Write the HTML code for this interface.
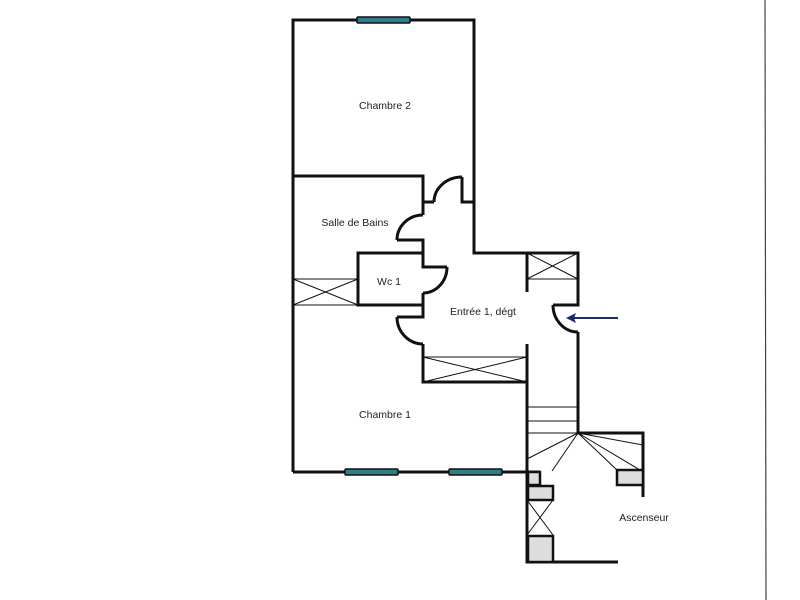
<!DOCTYPE html>
<html><head><meta charset="utf-8"><style>
html,body{margin:0;padding:0;background:#fff;width:800px;height:600px;overflow:hidden}
text{font-family:"Liberation Sans",sans-serif;font-size:10.5px;fill:#222;text-anchor:middle}
</style></head><body>
<svg width="800" height="600" viewBox="0 0 800 600" xmlns="http://www.w3.org/2000/svg">
<line x1="765" y1="0" x2="766" y2="600" stroke="#444" stroke-width="1.2"/>
<g fill="none" stroke="#111" stroke-width="3" stroke-linejoin="miter">
<!-- Chambre 2 -->
<polyline points="293,472 293,20 474,20 474,253 578,253 578,305 553,305"/>
<path d="M553,305 A25,27 0 0 0 578,332"/>
<polyline points="578,332 578,433 643,433 643,497"/>
<!-- salle de bains -->
<polyline points="293,176 423,176 423,202 434,202"/>
<path d="M434,202 A28,25 0 0 1 462,177"/>
<polyline points="462,177 462,202 474,202"/>
<polyline points="423,202 423,215"/>
<path d="M423,215 A26,25 0 0 0 397,240"/>
<polyline points="397,240 423,240 423,267 447,267"/>
<path d="M447,267 A24,26 0 0 1 423,293"/>
<polyline points="423,293 423,317 397,317"/>
<path d="M397,317 A26,27 0 0 0 423,344"/>
<polyline points="423,344 423,382 527,382 527,344"/>
<!-- WC -->
<polyline points="423,253 358,253 358,305 423,305"/>
<!-- inner wall -->
<polyline points="527,253 527,292"/>
<polyline points="527,382 527,562 618,562"/>
<polyline points="293,472 527,472"/>
<polyline points="500,472 540,472"/>
</g>
<g fill="none" stroke="#111" stroke-width="1">
<!-- closets -->
<rect x="527" y="253" width="51" height="26"/>
<path d="M527,253 L578,279 M578,253 L527,279"/>
<rect x="293" y="279" width="65" height="26"/>
<path d="M293,279 L358,305 M358,279 L293,305"/>
<rect x="423" y="357" width="104" height="25"/>
<path d="M423,357 L527,382 M527,357 L423,382"/>
<!-- stairs -->
<path d="M527,407 H578 M527,421 H578 M527,433 H578"/>
<path d="M578,433 L527,459 M578,433 L552,471 M578,433 L643,445 M578,433 L640,470 M578,433 L617,470"/>
<path d="M527,500 L553,535 M553,500 L527,535"/>
</g>
<g stroke="#111" stroke-width="2.5">
<rect x="528" y="472" width="12" height="13" fill="#ddd"/>
<rect x="528" y="486" width="25" height="14" fill="#ddd"/>
<rect x="528" y="536" width="25" height="26" fill="#ddd"/>
<rect x="617" y="470" width="26" height="15" fill="#ddd"/>
</g>
<!-- windows -->
<g fill="#2e7d88" stroke="#111" stroke-width="1.5">
<rect x="357" y="17" width="53" height="6" rx="1"/>
<rect x="345" y="469" width="53" height="6" rx="1"/>
<rect x="449" y="469" width="53" height="6" rx="1"/>
</g>
<!-- arrow -->
<line x1="618" y1="318" x2="572" y2="318" stroke="#1a2a6c" stroke-width="2"/>
<path d="M566,318 L576,313 L574,318 L576,323 Z" fill="#1a2a6c"/>
<text x="385" y="109">Chambre 2</text>
<text x="355" y="226">Salle de Bains</text>
<text x="389" y="285">Wc 1</text>
<text x="483" y="315">Entrée 1, dégt</text>
<text x="385" y="418">Chambre 1</text>
<text x="644" y="521">Ascenseur</text>
</svg>
</body></html>
